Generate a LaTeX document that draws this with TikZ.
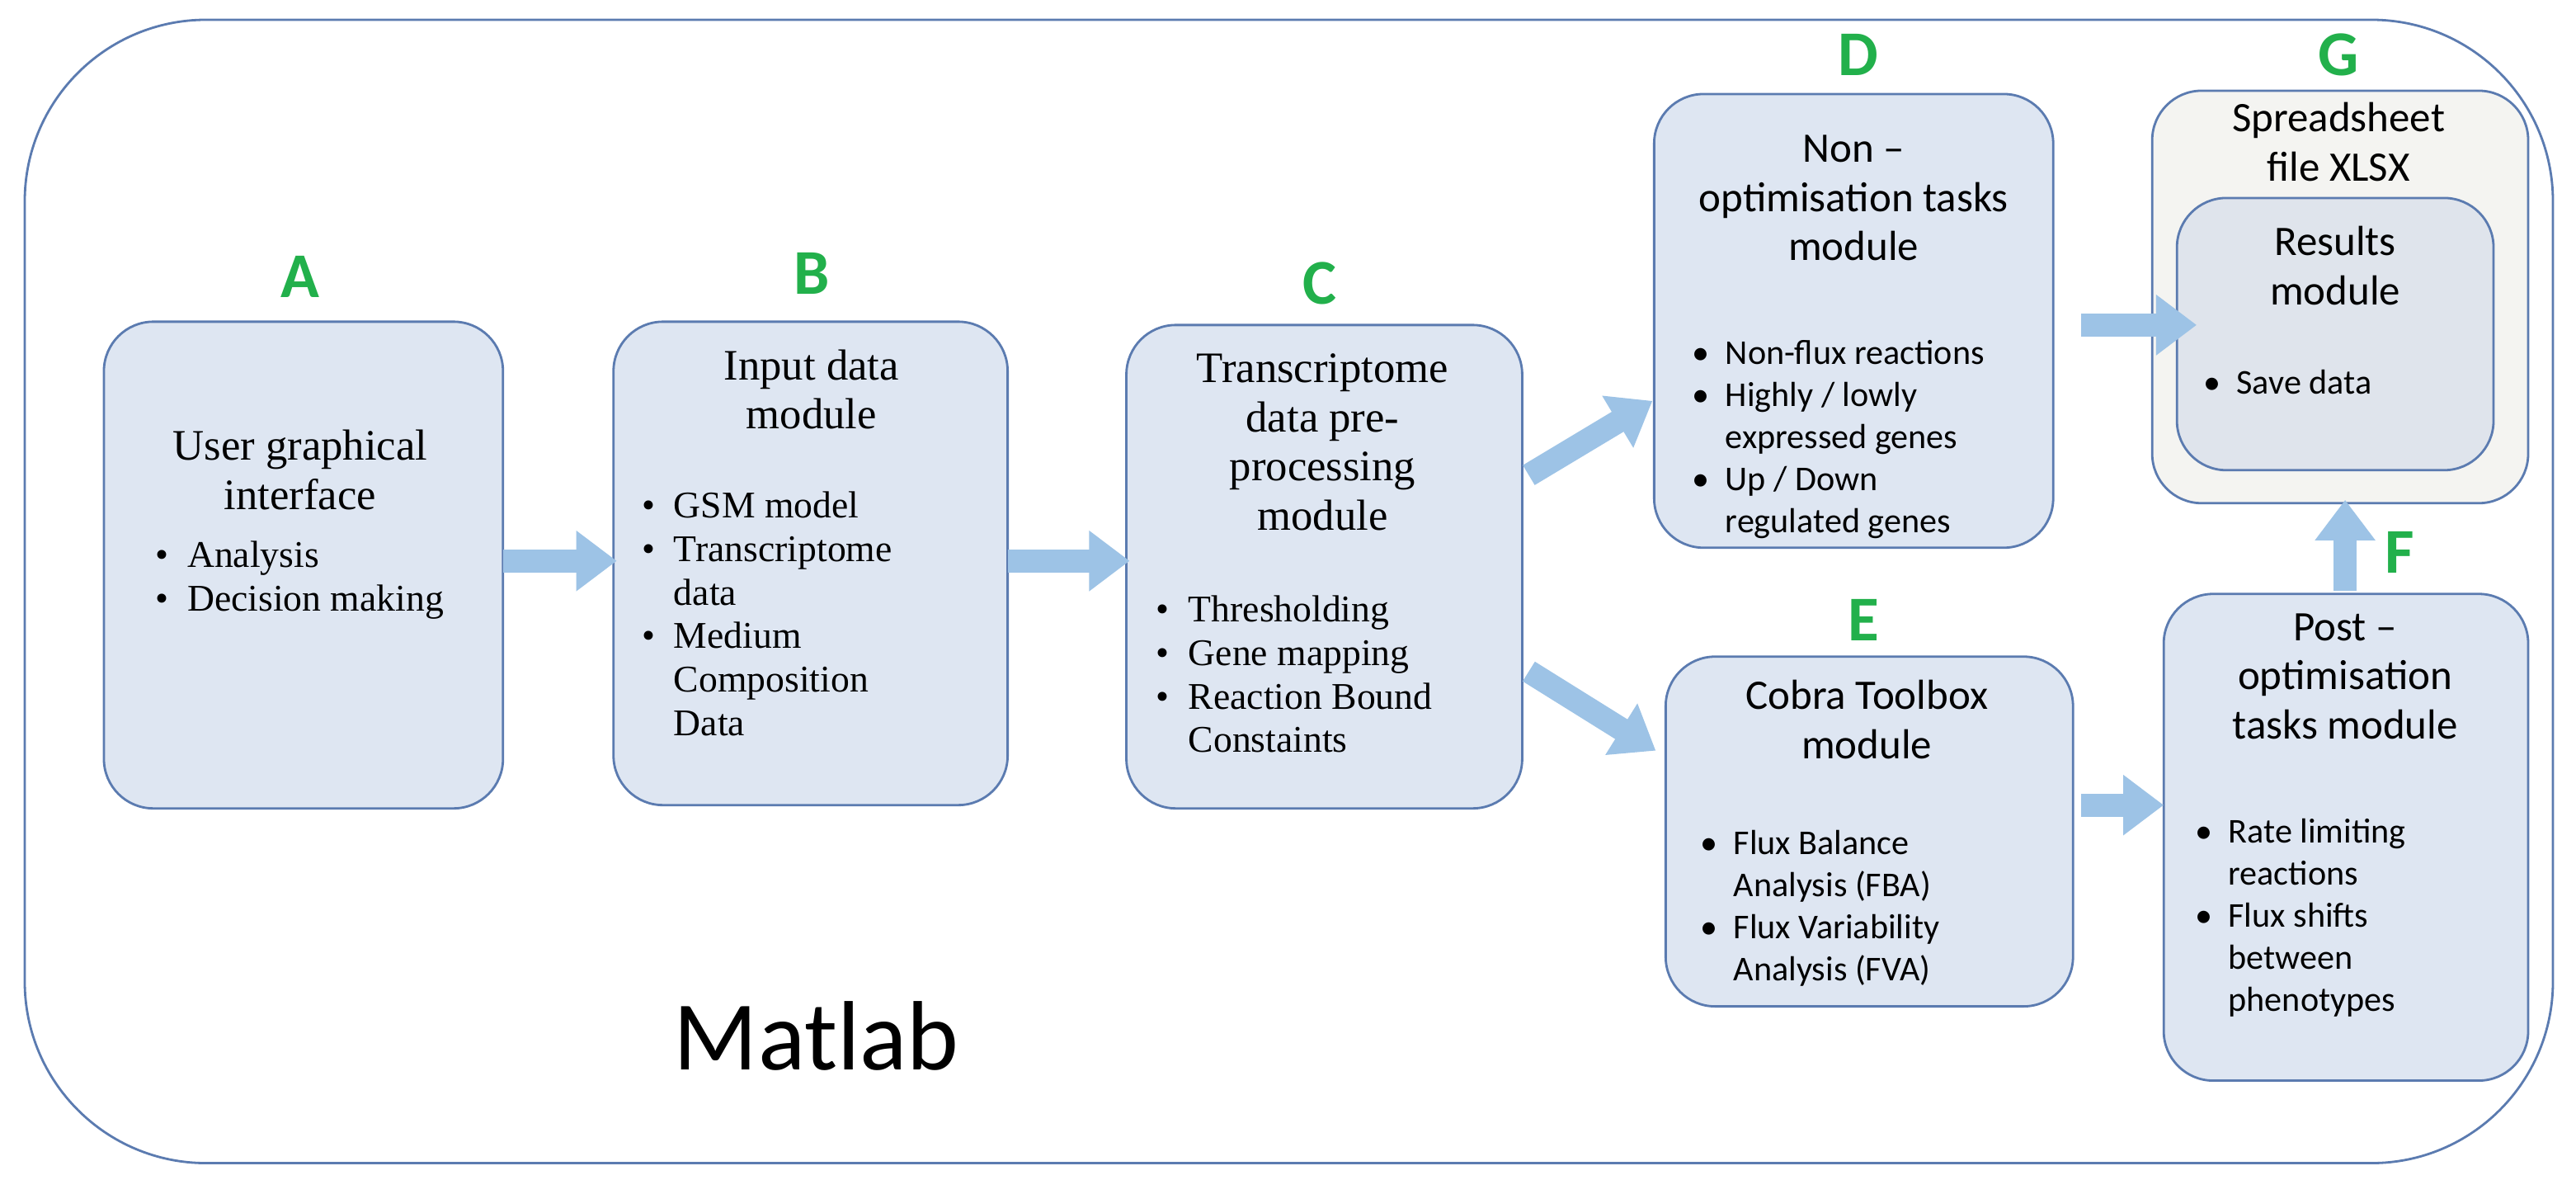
\documentclass[tikz,border=0pt]{standalone}
\usepackage{fontspec}
\setmainfont{Liberation Serif}
\newfontfamily\carl{Carlito}
\usetikzlibrary{arrows.meta}
\definecolor{boxfill}{HTML}{DEE6F2}
\definecolor{boxline}{HTML}{5B7BB0}
\definecolor{arr}{HTML}{9DC3E6}
\definecolor{lbl}{HTML}{22B04B}
\definecolor{gfill}{HTML}{F4F4F1}
\definecolor{rfill}{HTML}{DFE4EC}
\begin{document}
\begin{tikzpicture}[x=0.02cm,y=-0.02cm,
 box/.style={draw=boxline,fill=boxfill,rounded corners=0.6cm,line width=0.8pt},
 letter/.style={font=\carl\bfseries\fontsize{22}{24}\selectfont,text=lbl},
 ttl/.style={align=center,font=\fontsize{15}{17}\selectfont},
 sttl/.style={align=center,font=\carl\fontsize{14.5}{17}\selectfont},
 txt/.style={align=left,font=\fontsize{13}{15}\selectfont,anchor=north west},
 stxt/.style={align=left,font=\carl\fontsize{12}{14.5}\selectfont,anchor=north west},
 fat/.style={draw=arr,line width=8pt,-{Triangle[length=14pt,width=20pt]}}]
\useasboundingbox (0,0) rectangle (1562,715);
\draw[boxline,fill=white,rounded corners=2.2cm,line width=0.8pt] (15,12) rectangle (1548,705);
% boxes
\draw[box] (63,195) rectangle (305,490);
\draw[box] (372,195) rectangle (611,488);
\draw[box] (683,197) rectangle (923,490);
\draw[box] (1003,57) rectangle (1245,332);
\draw[draw=boxline,fill=gfill,rounded corners=0.6cm,line width=0.8pt] (1305,55) rectangle (1533,305);
\draw[draw=boxline,fill=rfill,rounded corners=0.6cm,line width=0.8pt] (1320,120) rectangle (1512,285);
\draw[box] (1010,398) rectangle (1257,610);
\draw[box] (1312,360) rectangle (1533,655);
% letters
\node[letter] (la) at (182,168) {A};
\node[letter] (lb) at (492,166) {B};
\node[letter] (lc) at (800,172) {C};
\node[letter] (ld) at (1127,33) {D};
\node[letter] (lg) at (1418,33) {G};
\node[letter] (le) at (1130,376) {E};
\node[letter] (lf) at (1455,335) {F};
% A
\node[ttl] (ta) at (182,285) {User graphical\\interface};
\node[txt] (xa) at (88,322) {\textbullet\ \ Analysis\\\textbullet\ \ Decision making};
% B
\node[ttl] (tb) at (492,236) {Input data\\module};
\node[txt] (xb) at (383,292) {\textbullet\ \ GSM model\\\textbullet\ \ Transcriptome\\\phantom{\textbullet}\ \ data\\\textbullet\ \ Medium\\\phantom{\textbullet}\ \ Composition\\\phantom{\textbullet}\ \ Data};
% C
\node[ttl] (tc) at (802,268) {Transcriptome\\data pre-\\processing\\module};
\node[txt] (xc) at (695,355) {\textbullet\ \ Thresholding\\\textbullet\ \ Gene mapping\\\textbullet\ \ Reaction Bound\\\phantom{\textbullet}\ \ Constaints};
% D
\node[sttl] (td) at (1124,120) {Non –\\optimisation tasks\\module};
\node[stxt] (xd) at (1020,200) {\textbullet\ \ Non-flux reactions\\\textbullet\ \ Highly / lowly\\\phantom{\textbullet}\ \ expressed genes\\\textbullet\ \ Up / Down\\\phantom{\textbullet}\ \ regulated genes};
% G
\node[sttl] (tg) at (1418,86) {Spreadsheet\\file XLSX};
\node[sttl] (tr) at (1416,161) {Results\\module};
\node[stxt] (xr) at (1330,218) {\textbullet\ \ Save data};
% E
\node[sttl] (te) at (1132,436) {Cobra Toolbox\\module};
\node[stxt] (xe) at (1025,497) {\textbullet\ \ Flux Balance\\\phantom{\textbullet}\ \ Analysis (FBA)\\\textbullet\ \ Flux Variability\\\phantom{\textbullet}\ \ Analysis (FVA)};
% F
\node[sttl] (tf) at (1422,410) {Post –\\optimisation\\tasks module};
\node[stxt] (xf) at (1325,490) {\textbullet\ \ Rate limiting\\\phantom{\textbullet}\ \ reactions\\\textbullet\ \ Flux shifts\\\phantom{\textbullet}\ \ between\\\phantom{\textbullet}\ \ phenotypes};
% Matlab
\node[font=\carl\fontsize{34}{36}\selectfont] (ml) at (495,628) {Matlab};
% arrows
\coordinate (a1) at (305,340); \coordinate (a2) at (374,340);
\coordinate (b1) at (611,340); \coordinate (b2) at (685,340);
\coordinate (c1) at (927,288); \coordinate (c2) at (1002,243);
\coordinate (c3) at (927,407); \coordinate (c4) at (1004,455);
\coordinate (d1) at (1262,197); \coordinate (d2) at (1332,197);
\coordinate (e1) at (1262,488); \coordinate (e2) at (1312,488);
\coordinate (f1) at (1422,358); \coordinate (f2) at (1422,303);
\draw[fat] (a1) -- (a2);
\draw[fat] (b1) -- (b2);
\draw[fat] (c1) -- (c2);
\draw[fat] (c3) -- (c4);
\draw[fat] (d1) -- (d2);
\draw[fat] (e1) -- (e2);
\draw[fat] (f1) -- (f2);
\end{tikzpicture}
\end{document}
